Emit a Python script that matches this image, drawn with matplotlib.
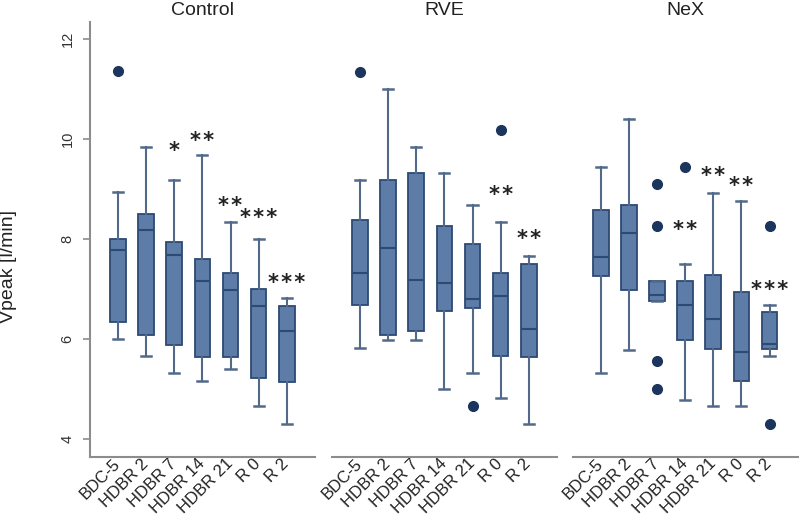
import numpy as np
import matplotlib.pyplot as plt

plt.rcParams['font.family'] = ['Liberation Sans', 'DejaVu Sans']

groups = ['Control', 'RVE', 'NeX']
labels = ['BDC-5', 'HDBR 2', 'HDBR 7', 'HDBR 14', 'HDBR 21', 'R 0', 'R 2']

# per group: lower whisker, Q1, median, Q3, upper whisker
whislo = {
    'Control': [6.0, 5.66, 5.33, 5.17, 5.4, 4.67, 4.31],
    'RVE':     [5.83, 5.98, 5.98, 5.0, 5.33, 4.83, 4.31],
    'NeX':     [5.33, 5.78, 6.77, 4.78, 4.66, 4.66, 5.66],
}
q1 = {
    'Control': [6.35, 6.09, 5.89, 5.65, 5.65, 5.23, 5.15],
    'RVE':     [6.69, 6.08, 6.16, 6.56, 6.63, 5.66, 5.65],
    'NeX':     [7.26, 6.99, 6.77, 5.98, 5.81, 5.16, 5.81],
}
med = {
    'Control': [7.78, 8.18, 7.68, 7.17, 6.99, 6.67, 6.17],
    'RVE':     [7.33, 7.83, 7.18, 7.13, 6.81, 6.87, 6.21],
    'NeX':     [7.65, 8.13, 6.88, 6.68, 6.41, 5.75, 5.91],
}
q3 = {
    'Control': [8.0, 8.51, 7.95, 7.61, 7.33, 7.0, 6.66],
    'RVE':     [8.38, 9.18, 9.33, 8.26, 7.91, 7.33, 7.51],
    'NeX':     [8.59, 8.68, 7.16, 7.16, 7.28, 6.95, 6.55],
}
whishi = {
    'Control': [8.95, 9.85, 9.18, 9.68, 8.35, 8.01, 6.83],
    'RVE':     [9.18, 11.01, 9.85, 9.33, 8.69, 8.35, 7.67],
    'NeX':     [9.45, 10.41, 7.16, 7.51, 8.93, 8.76, 6.68],
}
outliers = {
    'Control': [[11.37], [], [], [], [], [], []],
    'RVE':     [[11.35], [], [], [], [4.66], [10.18], []],
    'NeX':     [[], [], [9.11, 8.26, 5.57, 5.0], [9.45], [], [], [8.26, 4.31]],
}
# significance marks (number of stars) and their heights
stars = {
    'Control': [0, 0, 1, 2, 2, 3, 3],
    'RVE':     [0, 0, 0, 0, 0, 2, 2],
    'NeX':     [0, 0, 0, 2, 2, 2, 3],
}
star_y = {
    'Control': [0, 0, 9.88, 10.08, 8.78, 8.55, 7.25],
    'RVE':     [0, 0, 0, 0, 0, 9.0, 8.13],
    'NeX':     [0, 0, 0, 8.31, 9.39, 9.19, 7.11],
}

face = '#5d7ca7'
edge = '#2c4a72'
whisk = '#52698a'
dot = '#1c355d'

fig = plt.figure(figsize=(8, 5.2), dpi=100)
lefts = [0.1125, 0.415, 0.716]

for k, g in enumerate(groups):
    ax = fig.add_axes([lefts[k], 0.121, 0.281, 0.8365])
    stats = []
    for i in range(len(labels)):
        stats.append(dict(whislo=whislo[g][i], q1=q1[g][i], med=med[g][i],
                          q3=q3[g][i], whishi=whishi[g][i], fliers=outliers[g][i]))
    pos = np.arange(1, len(labels) + 1)
    ax.bxp(stats, positions=pos, widths=0.56, patch_artist=True,
           showfliers=True, capwidths=0.36,
           boxprops=dict(facecolor=face, edgecolor=edge, linewidth=1.3),
           medianprops=dict(color=edge, linewidth=1.5),
           whiskerprops=dict(color=whisk, linewidth=1.5),
           capprops=dict(color=whisk, linewidth=1.8),
           flierprops=dict(marker='o', markerfacecolor=dot, markeredgecolor=dot,
                           markersize=7))
    for i in range(len(labels)):
        if stars[g][i]:
            ax.text(pos[i], star_y[g][i] - 0.12, '\u200a'.join('*' * stars[g][i]),
                    ha='center', va='center', fontsize=15, fontweight='bold',
                    color='#222222', family='DejaVu Sans')
    ax.set_xlim(0, 8)
    ax.set_ylim(3.64, 12.34)
    ax.set_xticks(pos)
    ax.set_xticklabels(labels, rotation=45, ha='right', va='center',
                       rotation_mode='anchor', fontsize=12, color='#222222')
    ax.tick_params(axis='x', length=0, pad=3)
    ax.set_title(g, fontsize=14, color='#222222', pad=5)
    for s in ['top', 'right']:
        ax.spines[s].set_visible(False)
    ax.spines['bottom'].set_color('#8c8c8c')
    ax.spines['bottom'].set_linewidth(1.5)
    if k == 0:
        ax.set_yticks([4, 6, 8, 10, 12])
        ax.set_yticklabels(['4', '6', '8', '10', '12'], rotation=90, va='center',
                           fontsize=10.5, color='#333333')
        ax.tick_params(axis='y', length=5, color='#8c8c8c', width=1.2, pad=6)
        ax.spines['left'].set_color('#8c8c8c')
        ax.spines['left'].set_linewidth(1.5)
    else:
        ax.spines['left'].set_visible(False)
        ax.set_yticks([])

fig.text(0.021, 0.488, 'V\u0307peak [l/min]', rotation=90, ha='right', va='center',
         fontsize=14, color='#222222')

fig.savefig('out.png', dpi=100)
